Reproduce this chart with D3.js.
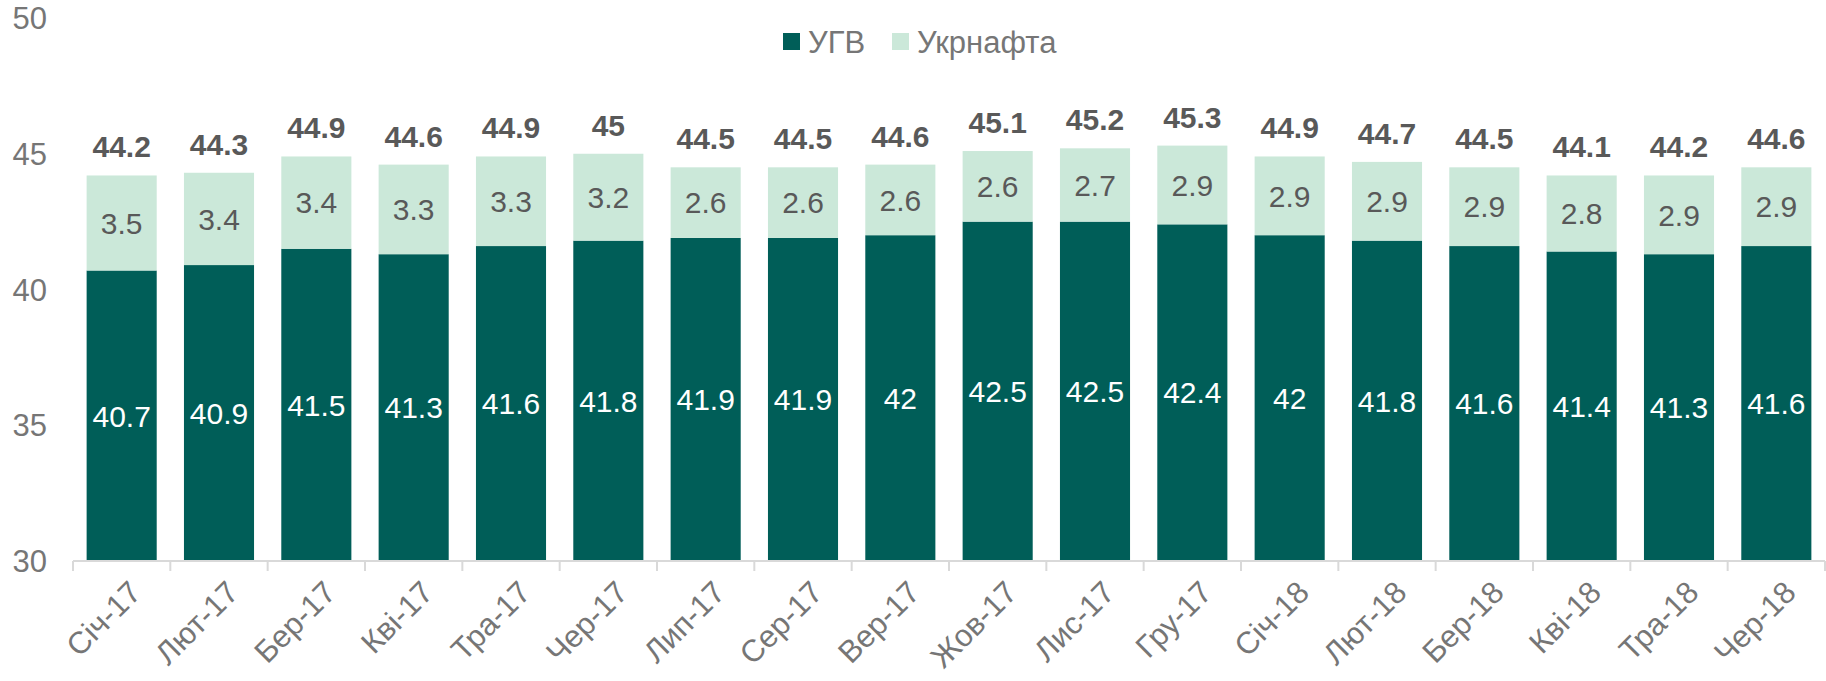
<!DOCTYPE html>
<html lang="uk">
<head>
    <meta charset="UTF-8">
    <title>УГВ / Укрнафта</title>
    <script src="https://d3js.org/d3.v7.min.js"></script>
    <style>
        body {
            margin: 0;
            background: #ffffff;
            font-family: 'Liberation Sans', Arial, sans-serif;
        }
    </style>
</head>
<body>
    <div id="chart"></div>

    <script>
        const months = ['Січ-17', 'Лют-17', 'Бер-17', 'Кві-17', 'Тра-17', 'Чер-17', 'Лип-17', 'Сер-17', 'Вер-17',
            'Жов-17', 'Лис-17', 'Гру-17', 'Січ-18', 'Лют-18', 'Бер-18', 'Кві-18', 'Тра-18', 'Чер-18'];
        const ugv = [40.7, 40.9, 41.5, 41.3, 41.6, 41.8, 41.9, 41.9, 42, 42.5, 42.5, 42.4, 42, 41.8, 41.6, 41.4, 41.3, 41.6];
        const ukrnafta = [3.5, 3.4, 3.4, 3.3, 3.3, 3.2, 2.6, 2.6, 2.6, 2.6, 2.7, 2.9, 2.9, 2.9, 2.9, 2.8, 2.9, 2.9];
        const totals = [44.2, 44.3, 44.9, 44.6, 44.9, 45, 44.5, 44.5, 44.6, 45.1, 45.2, 45.3, 44.9, 44.7, 44.5, 44.1, 44.2, 44.6];
        const yTicks = [30, 35, 40, 45, 50];

        const width = 1826, height = 681;
        const margin = { top: 18, right: 1, bottom: 120, left: 73 };

        const darkColor = '#005e58';
        const lightColor = '#cbe8d9';
        const labelGray = '#595959';
        const axisGray = '#767676';

        const svg = d3.select('#chart')
            .append('svg')
            .attr('width', width)
            .attr('height', height);

        const x = d3.scaleBand()
            .domain(months)
            .range([margin.left, width - margin.right])
            .paddingInner(0.28)
            .paddingOuter(0.14);

        const y = d3.scaleLinear()
            .domain([30, 50])
            .range([height - margin.bottom, margin.top]);

        // stacked bars
        const rows = months.map((m, i) => ({ m, ugv: ugv[i], ukr: ukrnafta[i], total: totals[i] }));

        const g = svg.append('g');

        g.selectAll('rect.ugv')
            .data(rows)
            .join('rect')
            .attr('class', 'ugv')
            .attr('x', d => x(d.m))
            .attr('width', x.bandwidth())
            .attr('y', d => y(d.ugv))
            .attr('height', d => y(30) - y(d.ugv))
            .attr('fill', darkColor);

        g.selectAll('rect.ukr')
            .data(rows)
            .join('rect')
            .attr('class', 'ukr')
            .attr('x', d => x(d.m))
            .attr('width', x.bandwidth())
            .attr('y', d => y(d.ugv + d.ukr))
            .attr('height', d => y(d.ugv) - y(d.ugv + d.ukr))
            .attr('fill', lightColor);

        // labels inside segments
        g.selectAll('text.ugv-label')
            .data(rows)
            .join('text')
            .attr('class', 'ugv-label')
            .attr('x', d => x(d.m) + x.bandwidth() / 2)
            .attr('y', d => (y(30) + y(d.ugv)) / 2)
            .attr('dy', '0.36em')
            .attr('text-anchor', 'middle')
            .attr('font-size', 30)
            .attr('fill', '#ffffff')
            .text(d => d.ugv);

        g.selectAll('text.ukr-label')
            .data(rows)
            .join('text')
            .attr('class', 'ukr-label')
            .attr('x', d => x(d.m) + x.bandwidth() / 2)
            .attr('y', d => (y(d.ugv) + y(d.ugv + d.ukr)) / 2)
            .attr('dy', '0.36em')
            .attr('text-anchor', 'middle')
            .attr('font-size', 30)
            .attr('fill', labelGray)
            .text(d => d.ukr);

        g.selectAll('text.total-label')
            .data(rows)
            .join('text')
            .attr('class', 'total-label')
            .attr('x', d => x(d.m) + x.bandwidth() / 2)
            .attr('y', d => y(d.ugv + d.ukr) - 18)
            .attr('text-anchor', 'middle')
            .attr('font-size', 30)
            .attr('font-weight', 'bold')
            .attr('fill', labelGray)
            .text(d => d.total);

        // x axis
        const xAxis = svg.append('g')
            .attr('transform', `translate(0,${y(30)})`);

        xAxis.append('line')
            .attr('x1', margin.left)
            .attr('x2', width - margin.right)
            .attr('stroke', '#d9d9d9')
            .attr('stroke-width', 2);

        const step = x.step();

        xAxis.selectAll('line.tick')
            .data(d3.range(months.length + 1))
            .join('line')
            .attr('class', 'tick')
            .attr('x1', i => margin.left + i * step)
            .attr('x2', i => margin.left + i * step)
            .attr('y1', 0)
            .attr('y2', 10)
            .attr('stroke', '#d9d9d9')
            .attr('stroke-width', 2);

        xAxis.selectAll('text')
            .data(months)
            .join('text')
            .attr('transform', d => `translate(${x(d) + x.bandwidth() / 2 + 6},${18}) rotate(-45)`)
            .attr('text-anchor', 'end')
            .attr('dy', '0.7em')
            .attr('font-size', 31)
            .attr('fill', axisGray)
            .text(d => d);

        // y axis labels
        svg.append('g')
            .selectAll('text')
            .data(yTicks)
            .join('text')
            .attr('x', 47)
            .attr('y', d => y(d))
            .attr('dy', '0.36em')
            .attr('text-anchor', 'end')
            .attr('font-size', 31)
            .attr('fill', axisGray)
            .text(d => d);

        // legend
        const legendItems = [
            { name: 'УГВ', color: darkColor, x: 783 },
            { name: 'Укрнафта', color: lightColor, x: 892 }
        ];

        const legend = svg.append('g');
        legendItems.forEach(item => {
            legend.append('rect')
                .attr('x', item.x)
                .attr('y', 33)
                .attr('width', 17)
                .attr('height', 17)
                .attr('fill', item.color);
            legend.append('text')
                .attr('x', item.x + 25)
                .attr('y', 42)
                .attr('dy', '0.36em')
                .attr('font-size', 31)
                .attr('fill', axisGray)
                .text(item.name);
        });
    </script>
</body>
</html>
